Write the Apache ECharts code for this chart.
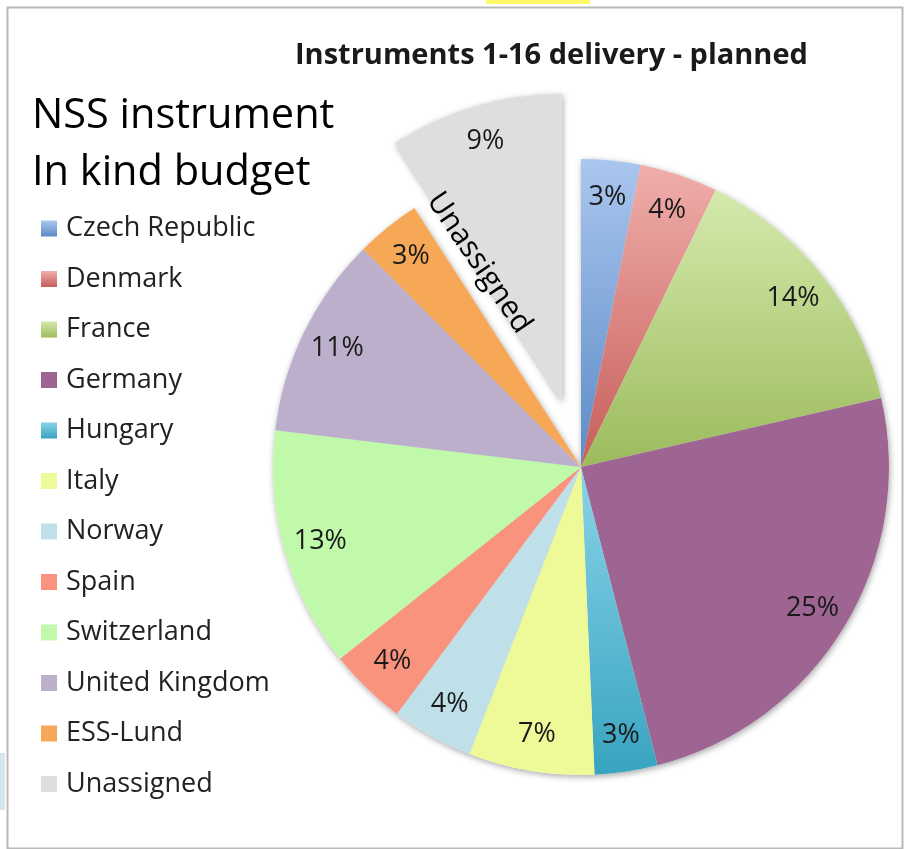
<!DOCTYPE html>
<html>
<head>
    <meta charset="utf-8">
    <title>Instruments 1-16 delivery</title>
    <script src="https://cdn.jsdelivr.net/npm/echarts@6/dist/echarts.min.js"></script>
    <style>
        body { margin: 0; background: #fff; }
    </style>
</head>
<body>
    <div id="main" style="width: 904px;height:849px;"></div>
    <script type="text/javascript">
        // partner names and their share (percent)
        var partners = ['Czech Republic', 'Denmark', 'France', 'Germany', 'Hungary', 'Italy',
                        'Norway', 'Spain', 'Switzerland', 'United Kingdom', 'ESS-Lund', 'Unassigned'];
        var shares = [3.1, 4.1, 14.2, 24.6, 3.3, 6.6, 4.3, 4.1, 12.6, 10.6, 3.4, 9.1];
        // slice colours: [top, bottom] of the excel-ish gradient
        var colours = [
            ['#aac6ee', '#5b8cc6'], ['#f0aeab', '#c65e5a'], ['#d4eaae', '#9cbb5c'], ['#9e6593', '#9e6593'],
            ['#8ad3e8', '#38a4c0'], ['#eef998', '#eef998'], ['#c0e0e9', '#c0e0e9'], ['#fa937e', '#fa937e'],
            ['#bff9a9', '#bff9a9'], ['#bcafcc', '#bcafcc'], ['#f7a857', '#f7a857'], ['#dedede', '#dedede']
        ];
        var exploded = 'Unassigned';

        var FONT = '"Open Sans"';
        var myChart = echarts.init(document.getElementById('main'));

        function grad(c) {
            return new echarts.graphic.LinearGradient(0, 0, 0, 1, [
                { offset: 0, color: c[0] }, { offset: 1, color: c[1] }
            ]);
        }

        var mainData = [], shadowData = [], labelData = [];
        for (var i = 0; i < partners.length; i++) {
            var sel = partners[i] === exploded;
            mainData.push({ name: partners[i], value: shares[i], selected: sel, itemStyle: { color: grad(colours[i]) } });
            shadowData.push({ name: partners[i], value: shares[i], selected: sel });
            labelData.push({ name: partners[i], value: shares[i], selected: sel });
        }

        var center = [581, 467];
        var R = 308;

        var option = {
            backgroundColor: '#fff',
            animation: false,
            title: [{
                text: 'Instruments 1-16 delivery - planned',
                left: 290, top: 36,
                textStyle: { fontFamily: FONT, fontSize: 29, fontWeight: 'bold', color: '#1a1a1a' }
            }, {
                text: 'NSS instrument\nIn kind budget',
                left: 27, top: 83,
                textStyle: { fontFamily: FONT, fontSize: 41.5, fontWeight: 'normal', color: '#000', lineHeight: 57 }
            }],
            legend: {
                orient: 'vertical',
                left: 36, top: 210,
                itemWidth: 16, itemHeight: 16,
                itemGap: 23.5,
                icon: 'rect',
                selectedMode: false,
                data: partners,
                textStyle: { fontFamily: FONT, fontSize: 27, lineHeight: 26, color: '#222', padding: [0, 0, 0, 4] }
            },
            graphic: [
                { type: 'rect', left: 486, top: 0, shape: { width: 104, height: 4 }, style: { fill: '#fff96a' }, z: -1 },
                { type: 'rect', left: 0, top: 753, shape: { width: 5, height: 57 }, style: { fill: '#d3e6ef' }, z: -1 },
                { type: 'rect', left: 5, top: 5, shape: { width: 895, height: 841 },
                  style: { fill: 'none', stroke: '#b9b9b9', lineWidth: 2 }, z: -1 },
                { type: 'text', x: 479, y: 263, rotation: -0.975,
                  style: { text: 'Unassigned', font: '30px ' + FONT, fill: '#000', align: 'center', verticalAlign: 'middle' }, z: 10 }
            ],
            series: [{
                // main pie
                name: 'delivery', type: 'pie', z: 2,
                center: center, radius: [0, R],
                startAngle: 90, clockwise: true,
                selectedMode: 'single', selectedOffset: 68,
                silent: true,
                label: { show: false }, labelLine: { show: false },
                data: mainData
            }, {
                // soft shadow under the slices
                name: 'shadow', type: 'pie', z: 1,
                center: center, radius: [0, R],
                startAngle: 90, selectedMode: 'single', selectedOffset: 68,
                silent: true, legendHoverLink: false,
                label: { show: false }, labelLine: { show: false },
                itemStyle: { color: '#fff', shadowBlur: 6, shadowColor: 'rgba(0,0,0,0.35)', shadowOffsetX: 1, shadowOffsetY: 2 },
                data: shadowData
            }, {
                // percentage labels placed near the rim
                name: 'labels', type: 'pie', z: 3,
                center: center, radius: [R * 0.74, R],
                startAngle: 90, selectedMode: 'single', selectedOffset: 68,
                silent: true, legendHoverLink: false,
                itemStyle: { color: 'rgba(0,0,0,0)' },
                label: {
                    show: true, position: 'inside',
                    fontFamily: FONT, fontSize: 27, color: '#1a1a1a',
                    formatter: function (p) { return Math.round(p.percent) + '%'; }
                },
                labelLine: { show: false },
                data: labelData
            }]
        };

        myChart.setOption(option);
    </script>
</body>
</html>
